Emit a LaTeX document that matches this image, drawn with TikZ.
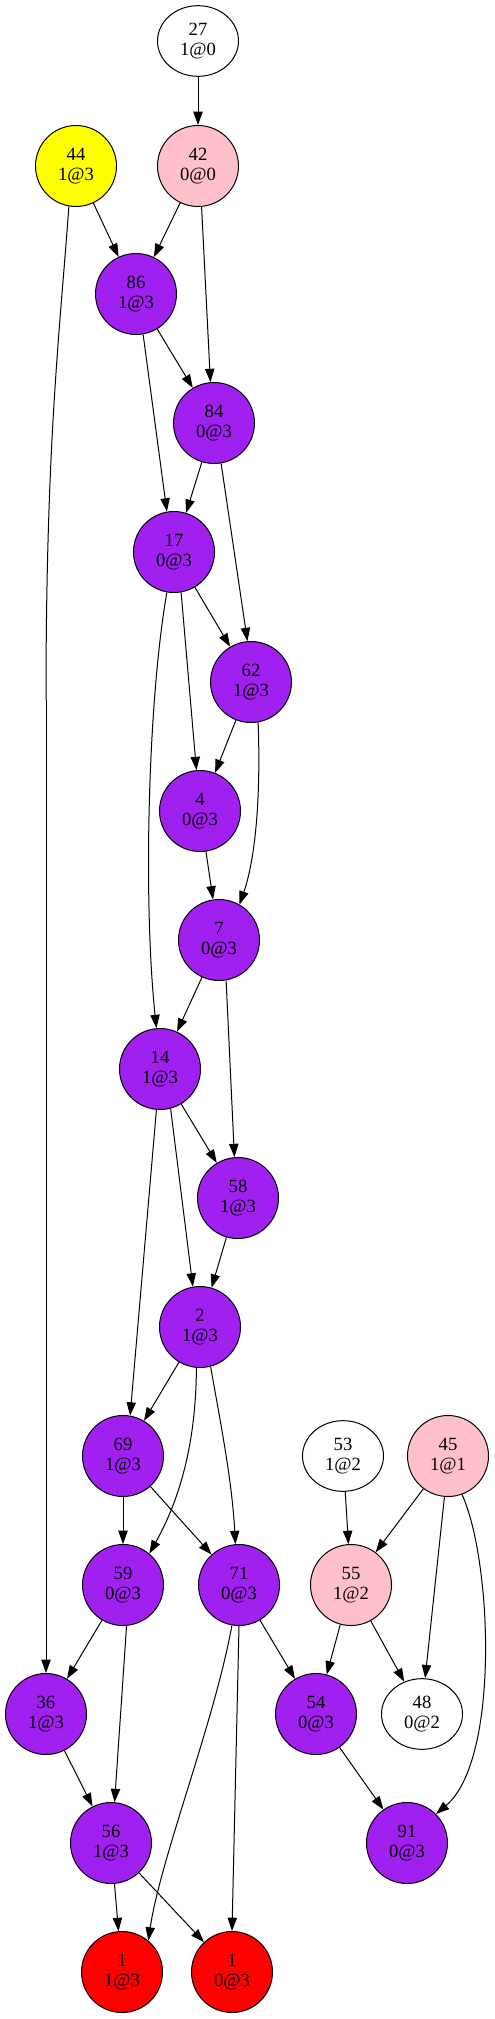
\documentclass[tikz,border=0pt]{standalone}
\usepackage{fontspec}
\setmainfont{Liberation Serif}
\usetikzlibrary{shapes.geometric,arrows.meta}
\definecolor{gvpurple}{HTML}{A020F0}
\definecolor{gvpink}{HTML}{FFC0CB}
\definecolor{gvyellow}{HTML}{FFFF00}
\definecolor{gvred}{HTML}{FF0000}
\tikzset{
  gnode/.style={circle,draw=black,line width=0.75pt,minimum size=60.75pt,inner sep=0pt,align=center,font=\fontsize{14}{14.5}\selectfont},
  enode/.style={ellipse,draw=black,line width=0.75pt,minimum width=60.75pt,minimum height=53pt,inner sep=0pt,align=center,font=\fontsize{14}{14.5}\selectfont,fill=white},
  pnode/.style={gnode,fill=gvpurple},
  knode/.style={gnode,fill=gvpink},
  ynode/.style={gnode,fill=gvyellow},
  rnode/.style={gnode,fill=gvred},
  edge/.style={line width=0.75pt,-{Triangle[length=10pt,width=7pt]}}
}
\begin{document}
\begin{tikzpicture}[x=0.75pt,y=-0.75pt]
\useasboundingbox (0,0) rectangle (494,2019);
\node[enode] (n27) at (198,41) {27\\1@0};
\node[knode] (n42) at (198,166) {42\\0@0};
\node[ynode] (n44) at (76,166) {44\\1@3};
\node[pnode] (n86) at (136,294) {86\\1@3};
\node[pnode] (n84) at (214,423) {84\\0@3};
\node[pnode] (n17) at (174,552) {17\\0@3};
\node[pnode] (n62) at (251,682) {62\\1@3};
\node[pnode] (n4) at (200,811) {4\\0@3};
\node[pnode] (n7) at (219,940) {7\\0@3};
\node[pnode] (n14) at (160,1069) {14\\1@3};
\node[pnode] (n58) at (238,1198) {58\\1@3};
\node[pnode] (n2) at (200,1327) {2\\1@3};
\node[pnode] (n69) at (123,1456) {69\\1@3};
\node[enode] (n53) at (343,1456) {53\\1@2};
\node[knode] (n45) at (448,1456) {45\\1@1};
\node[pnode] (n59) at (123,1585) {59\\0@3};
\node[pnode] (n71) at (239,1585) {71\\0@3};
\node[knode] (n55) at (351,1585) {55\\1@2};
\node[pnode] (n36) at (46,1714) {36\\1@3};
\node[pnode] (n54) at (316,1714) {54\\0@3};
\node[enode] (n48) at (422,1714) {48\\0@2};
\node[pnode] (n56) at (111,1843) {56\\1@3};
\node[pnode] (n91) at (407,1843) {91\\0@3};
\node[rnode] (n1a) at (122,1972) {1\\1@3};
\node[rnode] (n1b) at (232,1972) {1\\0@3};
\coordinate (c44) at (46,700);

\draw[edge] (n27) -- (n42);
\draw[edge] (n42) -- (n86);
\draw[edge] (n42.-85) -- (n84.95);
\draw[edge] (n44) -- (n86);
\draw[line width=0.75pt] (n44.-100) .. controls (60,330) and (46,440) .. (c44);
\draw[edge] (c44) -- (n36);
\draw[edge] (n86) -- (n84);
\draw[edge] (n86.-80) -- (n17.100);
\draw[edge] (n84) -- (n17);
\draw[edge] (n84.-80) -- (n62.95);
\draw[edge] (n17) -- (n62);
\draw[edge] (n17.-80) -- (n4.95);
\draw[edge] (n17.-100) .. controls (148,700) and (143,900) .. (n14.95);
\draw[edge] (n62) -- (n4);
\draw[edge] (n62.-80) .. controls (261,800) and (255,860) .. (n7.60);
\draw[edge] (n4) -- (n7);
\draw[edge] (n7) -- (n14);
\draw[edge] (n7.-80) -- (n58.95);
\draw[edge] (n14) -- (n58);
\draw[edge] (n14.-75) -- (n2.100);
\draw[edge] (n14.-95) -- (n69.80);
\draw[edge] (n58) -- (n2);
\draw[edge] (n2) -- (n69);
\draw[edge] (n2.-95) .. controls (196,1430) and (185,1490) .. (n59.50);
\draw[edge] (n2.-75) .. controls (220,1420) and (232,1480) .. (n71.95);
\draw[edge] (n69) -- (n59);
\draw[edge] (n69) -- (n71);
\draw[edge] (n53) -- (n55);
\draw[edge] (n45) -- (n55);
\draw[edge] (n45.-95) -- (n48.85);
\draw[edge] (n45.-70) .. controls (492,1560) and (500,1760) .. (n91.45);
\draw[edge] (n59) -- (n36);
\draw[edge] (n59.-85) -- (n56.85);
\draw[edge] (n71) -- (n54);
\draw[edge] (n71.-100) .. controls (215,1720) and (160,1860) .. (n1a.50);
\draw[edge] (n71.-90) -- (n1b.90);
\draw[edge] (n55) -- (n54);
\draw[edge] (n55) -- (n48);
\draw[edge] (n36) -- (n56);
\draw[edge] (n54) -- (n91);
\draw[edge] (n56) -- (n1a);
\draw[edge] (n56) -- (n1b);
\end{tikzpicture}
\end{document}
